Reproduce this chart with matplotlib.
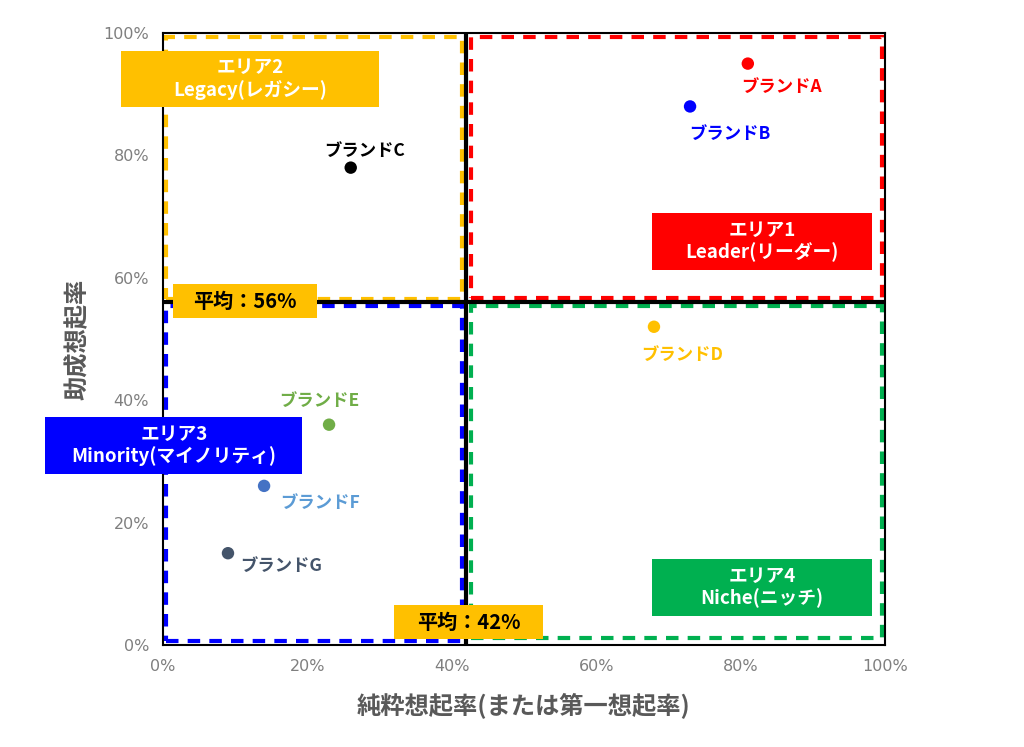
import matplotlib
matplotlib.use("Agg")
import matplotlib.pyplot as plt
from matplotlib.patches import Rectangle

plt.rcParams['font.family'] = ['Noto Sans CJK JP', 'DejaVu Sans']

# ---- data ----
brands = ["ブランドA", "ブランドB", "ブランドC", "ブランドD", "ブランドE", "ブランドF", "ブランドG"]
pure_recall = [81, 73, 26, 68, 23, 14, 9]        # x (%)
aided_recall = [95, 88, 78, 52, 36, 26, 15]      # y (%)
point_colors = ["#FF0000", "#0000FF", "#000000", "#FFC000", "#70AD47", "#4472C4", "#44546A"]
label_colors = ["#FF0000", "#0000FF", "#000000", "#FFC000", "#70AD47", "#5B9BD5", "#44546A"]
label_offsets = [(24, -17), (29, -20), (10, 12), (20, -20), (-7, 17), (40, -12), (38, -9)]

avg_x = 42
avg_y = 56

area_titles = ["エリア1\nLeader(リーダー)", "エリア2\nLegacy(レガシー)",
               "エリア3\nMinority(マイノリティ)", "エリア4\nNiche(ニッチ)"]
area_colors = ["#FF0000", "#FFC000", "#0000FF", "#00B050"]
# dashed region rectangles (x0, x1, y0, y1) in %
area_regions = [(42.6, 99.6, 56.7, 99.3), (0.4, 41.4, 56.6, 99.3),
                (0.4, 41.4, 0.6, 55.4), (42.6, 99.6, 1.1, 55.4)]
# label boxes (x0, x1, y0, y1) in %
area_boxes = [(67.7, 98.2, 61.3, 70.6), (-5.8, 29.9, 87.9, 97.1),
              (-16.3, 19.3, 27.9, 37.3), (67.7, 98.2, 4.7, 14.1)]

avg_labels = ["平均：56%", "平均：42%"]
avg_boxes = [(1.4, 21.3, 53.4, 59.0), (32.0, 52.6, 1.0, 6.5)]

ticks = [0, 20, 40, 60, 80, 100]
tick_labels = ["0%", "20%", "40%", "60%", "80%", "100%"]
xlabel = "純粋想起率(または第一想起率)"
ylabel = "助成想起率"

# ---- figure ----
fig = plt.figure(figsize=(10.24, 7.47), dpi=100)
ax = fig.add_axes([163/1024, 102/747, 722/1024, 612/747])
ax.set_xlim(0, 100)
ax.set_ylim(0, 100)

for s in ax.spines.values():
    s.set_color("black")
    s.set_linewidth(1.5)

ax.set_xticks(ticks)
ax.set_xticklabels(tick_labels)
ax.set_yticks(ticks)
ax.set_yticklabels(tick_labels)
ax.tick_params(length=0, labelsize=11.5, labelcolor="#7F7F7F", pad=10)
for lab in ax.get_xticklabels() + ax.get_yticklabels():
    lab.set_family(['DejaVu Sans'])

ax.set_xlabel(xlabel, fontsize=17.5, fontweight="bold", color="#595959", labelpad=14)
ax.set_ylabel(ylabel, fontsize=17.5, fontweight="bold", color="#595959", labelpad=10)

# dashed regions
for (x0, x1, y0, y1), c in zip(area_regions, area_colors):
    ax.add_patch(Rectangle((x0, y0), x1 - x0, y1 - y0, fill=False, edgecolor=c,
                           linewidth=3, linestyle=(0, (3, 2.2)), zorder=2))

# average lines
ax.axvline(avg_x, color="black", linewidth=3, zorder=3)
ax.axhline(avg_y, color="black", linewidth=3, zorder=3)

# area label boxes
for (x0, x1, y0, y1), c, t in zip(area_boxes, area_colors, area_titles):
    ax.add_patch(Rectangle((x0, y0), x1 - x0, y1 - y0, facecolor=c, edgecolor="none",
                           clip_on=False, zorder=4))
    ax.text((x0 + x1) / 2, (y0 + y1) / 2, t, ha="center", va="center", color="white",
            fontsize=13.5, fontweight="bold", linespacing=1.15, zorder=5, clip_on=False)

# average label boxes
for (x0, x1, y0, y1), t in zip(avg_boxes, avg_labels):
    ax.add_patch(Rectangle((x0, y0), x1 - x0, y1 - y0, facecolor="#FFC000", edgecolor="none",
                           clip_on=False, zorder=4))
    ax.text((x0 + x1) / 2, (y0 + y1) / 2, t, ha="center", va="center", color="black",
            fontsize=14.5, fontweight="bold", zorder=5)

# points
ax.scatter(pure_recall, aided_recall, s=80, c=point_colors, zorder=6, edgecolors="none")
for name, x, y, col, off in zip(brands, pure_recall, aided_recall, label_colors, label_offsets):
    ax.annotate(name, (x, y), xytext=off, textcoords="offset points", ha="center",
                va="center", color=col, fontsize=12.5, fontweight="bold", zorder=6)

fig.savefig("out.png", dpi=100)
